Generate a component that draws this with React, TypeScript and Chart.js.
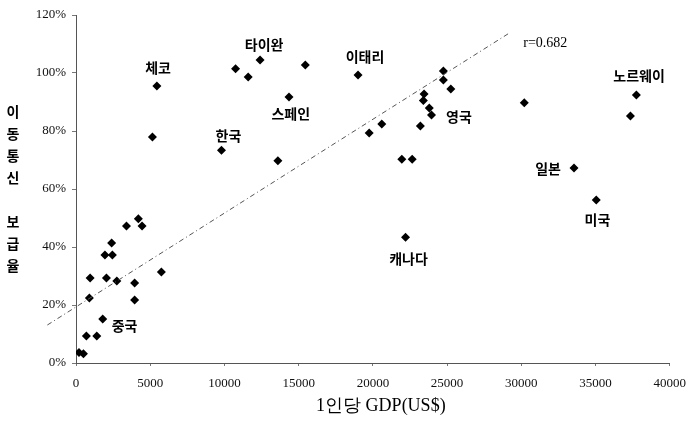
import React, { useEffect, useRef } from "react";
import { Chart, registerables } from "chart.js";

Chart.register(...registerables);

// Per-capita GDP (US$) and mobile penetration (%) for each country point
const gdpValues = [
  200, 500, 700, 1400, 1800, 900, 950, 2050, 2750, 1950, 2450, 2400, 3400, 4200, 4450, 3950, 3950, 5750,
  5450, 5150, 9800, 10750, 11600, 12400, 15450, 14350, 13600, 19000, 19750, 20600, 21950, 22650, 23200,
  23450, 23400, 23800, 23950, 24750, 24750, 25250, 22200, 30200, 37750, 37350, 33550, 35050,
];
const penetrationValues = [
  3.6, 3.2, 9.3, 9.3, 15.2, 22.4, 29.3, 29.3, 28.3, 37.2, 37.2, 41.4, 47.2, 49.7, 47.2, 27.6, 21.7, 31.4,
  95.5, 77.9, 73.4, 101.5, 98.6, 104.5, 102.8, 91.7, 69.7, 99.3, 79.3, 82.4, 70.3, 70.3, 81.7,
  92.8, 90.5, 87.9, 85.5, 100.7, 97.6, 94.5, 43.4, 89.7, 92.4, 85.2, 67.2, 56.2,
];

// Regression line (r = 0.682) end points
const trendX = [-1930, 29200];
const trendY = [13.1, 113.8];

// Country labels, placed in data coordinates
const labelNames = ["체코", "타이완", "이태리", "한국", "스페인", "영국", "노르웨이", "일본", "미국", "캐나다", "중국"];
const labelX = [5530, 12670, 19470, 10270, 14470, 25800, 37930, 31800, 35130, 22400, 3270];
const labelY = [101.7, 109.7, 105.5, 78.3, 85.9, 84.8, 99.0, 66.9, 49.3, 35.9, 12.8];

const rLabel = "r=0.682";
const rLabelX = 30130;
const rLabelY = 110.3;

const xTitle = "1인당 GDP(US$)";
const yTitleChars = ["이", "동", "통", "신", " ", "보", "급", "율"];

const X_MIN = 0;
const X_MAX = 40000;
const X_STEP = 5000;
const Y_MIN = 0;
const Y_MAX = 120;
const Y_STEP = 20;

const KFONT = "'Noto Sans CJK KR', 'Noto Sans', sans-serif";
const SERIF = "'Liberation Serif', 'DejaVu Serif', serif";

const textPlugin = {
  id: "textPlugin",
  afterDatasetsDraw(chart: any) {
    const ctx = chart.ctx;
    const xs = chart.scales.x;
    const ys = chart.scales.y;
    ctx.save();
    ctx.fillStyle = "#000";
    ctx.textAlign = "center";
    ctx.textBaseline = "middle";
    ctx.font = `bold 14px ${KFONT}`;
    labelNames.forEach((name, i) => {
      ctx.fillText(name, xs.getPixelForValue(labelX[i]), ys.getPixelForValue(labelY[i]));
    });
    // r label
    ctx.font = `14px ${SERIF}`;
    ctx.textAlign = "left";
    ctx.fillText(rLabel, xs.getPixelForValue(rLabelX), ys.getPixelForValue(rLabelY));
    // y title stacked
    ctx.textAlign = "center";
    ctx.font = `bold 14px ${KFONT}`;
    yTitleChars.forEach((c, i) => {
      ctx.fillText(c, 13, 112 + i * 22);
    });
    // x title
    ctx.font = `18px ${SERIF}`;
    const ca = chart.chartArea;
    ctx.fillText(xTitle, (ca.left + ca.right) / 2 + 8, 406);
    ctx.restore();
  },
};

export default function App() {
  const ref = useRef<HTMLCanvasElement>(null);
  useEffect(() => {
    document.body.style.margin = "0";
    const points = gdpValues.map((g, i) => ({ x: g, y: penetrationValues[i] }));
    const trend = trendX.map((g, i) => ({ x: g, y: trendY[i] }));
    const chart = new Chart(ref.current as HTMLCanvasElement, {
      type: "scatter",
      data: {
        datasets: [
          {
            type: "line",
            data: trend,
            borderColor: "#555",
            borderWidth: 1,
            borderDash: [5, 3, 1, 3],
            pointRadius: 0,
            fill: false,
            clip: false as any,
          },
          {
            data: points,
            pointStyle: "rectRot",
            pointRadius: 4.5,
            backgroundColor: "#000",
            borderColor: "#000",
            borderWidth: 0,
          },
        ],
      },
      options: {
        responsive: false,
        animation: false,
        layout: { padding: { top: 15, right: 20, left: 0, bottom: 0 } },
        plugins: { legend: { display: false }, tooltip: { enabled: false }, title: { display: false } },
        scales: {
          x: {
            type: "linear",
            min: X_MIN,
            max: X_MAX,
            ticks: {
              stepSize: X_STEP,
              color: "#111",
              font: { family: SERIF, size: 13 },
              padding: 10,
              maxRotation: 0,
              callback: (v: any) => `${v}`,
            },
            grid: { display: true, drawOnChartArea: false, drawTicks: true, tickLength: 3, color: "#777" },
            border: { display: true, color: "#555", width: 1, dash: [1, 1] },
            afterFit: (s: any) => {
              s.height = 60;
            },
          },
          y: {
            type: "linear",
            min: Y_MIN,
            max: Y_MAX,
            ticks: {
              stepSize: Y_STEP,
              color: "#111",
              font: { family: SERIF, size: 13 },
              padding: 6,
              callback: (v: any) => `${v}%`,
            },
            grid: { display: true, drawOnChartArea: false, drawTicks: true, tickLength: 4, color: "#777" },
            border: { display: true, color: "#555", width: 1, dash: [1, 1] },
            afterFit: (s: any) => {
              s.width = 76;
            },
          },
        },
      },
      plugins: [textPlugin],
    });
    return () => chart.destroy();
  }, []);
  return (
    <div style={{ position: "absolute", left: 0, top: 0, width: 696, height: 423, background: "#fff" }}>
      <canvas ref={ref} width={696} height={423} />
    </div>
  );
}
